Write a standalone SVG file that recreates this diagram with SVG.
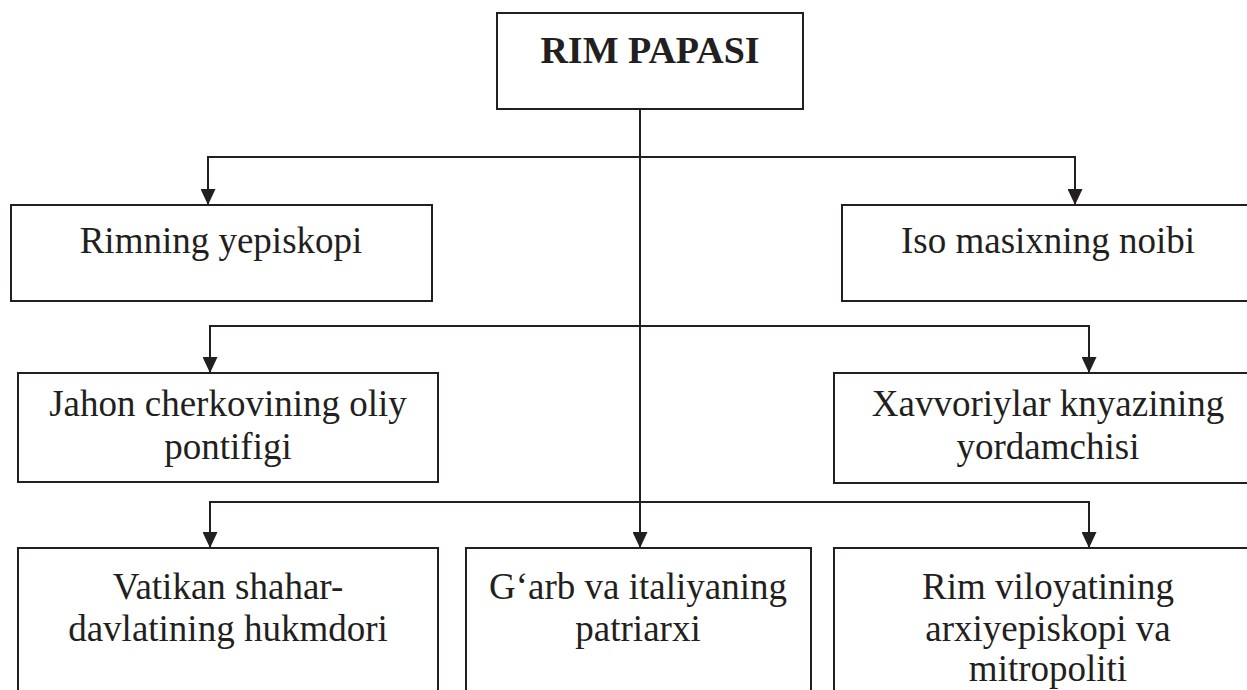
<svg xmlns="http://www.w3.org/2000/svg" width="1247" height="690" viewBox="0 0 1247 690">
<style>
.box{fill:#fff;stroke:#231f20;stroke-width:2}
.t{font-family:"Liberation Serif","Times New Roman",serif;font-size:37px;fill:#231f20;text-anchor:middle}
.tb{font-family:"Liberation Serif","Times New Roman",serif;font-size:38px;font-weight:bold;fill:#231f20;text-anchor:middle}
.c{fill:none;stroke:#231f20;stroke-width:2;marker-end:url(#arr)}
</style>
<defs>
<marker id="arr" viewBox="0 0 16 15" markerWidth="16" markerHeight="15" markerUnits="userSpaceOnUse" refX="16" refY="7.5" orient="auto">
<path d="M0,0 L16,7.5 L0,15 z" fill="#231f20"/>
</marker>
</defs>
<rect width="1247" height="690" fill="#fff"/>
<g id="connectors">
<path class="c" d="M640,109 V548"/>
<path class="c" d="M640,157 H208 V205"/>
<path class="c" d="M640,157 H1075 V205"/>
<path class="c" d="M640,326 H210 V373"/>
<path class="c" d="M640,326 H1089 V373"/>
<path class="c" d="M640,502 H210 V548"/>
<path class="c" d="M640,502 H1089 V548"/>
</g>
<g id="rim-papasi">
<rect class="box" x="497" y="13" width="306" height="96"/>
<text class="tb" x="650" y="63">RIM PAPASI</text>
</g>
<g id="rimning-yepiskopi">
<rect class="box" x="11" y="205" width="421" height="96"/>
<text class="t" x="221" y="253">Rimning yepiskopi</text>
</g>
<g id="iso-masixning-noibi">
<rect class="box" x="842" y="205" width="420" height="96"/>
<text class="t" x="1048" y="253">Iso masixning noibi</text>
</g>
<g id="jahon-cherkovining">
<rect class="box" x="18" y="373" width="420" height="109"/>
<text class="t" x="228" y="416">Jahon cherkovining oliy</text>
<text class="t" x="228" y="459">pontifigi</text>
</g>
<g id="xavvoriylar">
<rect class="box" x="834" y="373" width="428" height="110"/>
<text class="t" x="1048" y="416">Xavvoriylar knyazining</text>
<text class="t" x="1048" y="459">yordamchisi</text>
</g>
<g id="vatikan">
<rect class="box" x="18" y="548" width="420" height="160"/>
<text class="t" x="228" y="599">Vatikan shahar-</text>
<text class="t" x="228" y="641">davlatining hukmdori</text>
</g>
<g id="garb">
<rect class="box" x="466" y="548" width="345" height="160"/>
<text class="t" x="638" y="599">G‘arb va italiyaning</text>
<text class="t" x="638" y="641">patriarxi</text>
</g>
<g id="rim-viloyatining">
<rect class="box" x="834" y="548" width="428" height="160"/>
<text class="t" x="1048" y="599">Rim viloyatining</text>
<text class="t" x="1048" y="641">arxiyepiskopi va</text>
<text class="t" x="1048" y="681">mitropoliti</text>
</g>
</svg>
